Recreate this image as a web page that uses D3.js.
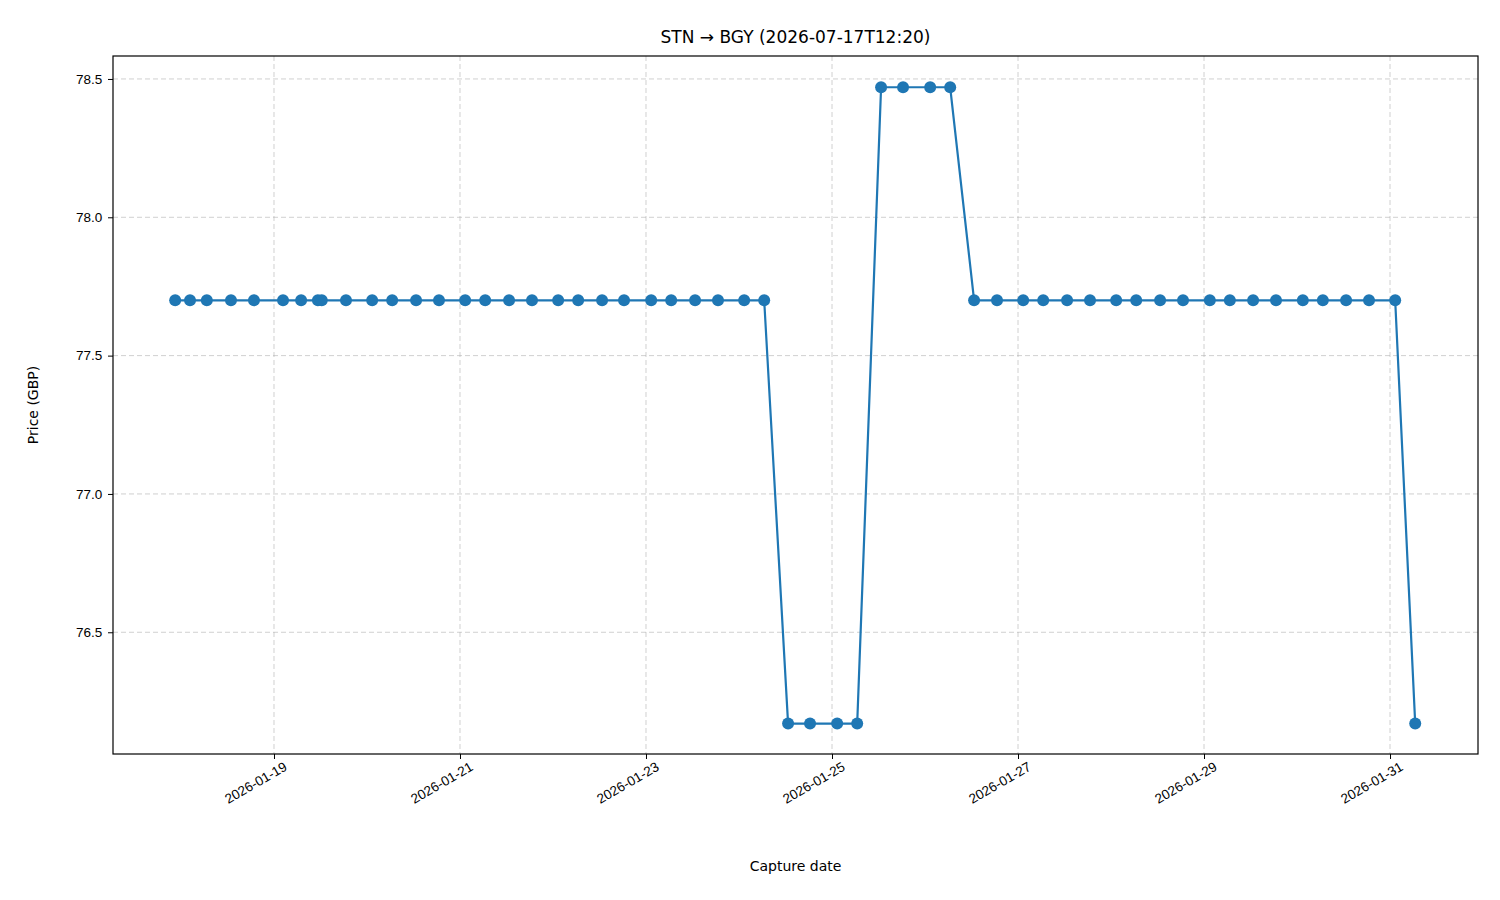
<!DOCTYPE html>
<html lang="en">
<head>
<meta charset="UTF-8">
<title>STN → BGY</title>
<script src="https://d3js.org/d3.v7.min.js"></script>
<style>
  body { margin: 0; background: #fff; font-family: "DejaVu Sans", sans-serif; }
  .grid line { stroke: #b0b0b0; stroke-dasharray: 5,3; stroke-opacity: 0.6; }
  .axis text { font-size: 13.5px; fill: #000; }
</style>
</head>
<body>
<svg id="chart" width="1500" height="900"></svg>
<script>
// capture times and prices
const times = [
  "2026-01-17T22:30","2026-01-18T02:20","2026-01-18T06:40","2026-01-18T12:54","2026-01-18T18:50",
  "2026-01-19T02:20","2026-01-19T07:00","2026-01-19T11:20","2026-01-19T12:20","2026-01-19T18:35",
  "2026-01-20T01:20","2026-01-20T06:30","2026-01-20T12:40","2026-01-20T18:35",
  "2026-01-21T01:20","2026-01-21T06:30","2026-01-21T12:40","2026-01-21T18:35",
  "2026-01-22T01:20","2026-01-22T06:30","2026-01-22T12:40","2026-01-22T18:20",
  "2026-01-23T01:20","2026-01-23T06:30","2026-01-23T12:40","2026-01-23T18:35",
  "2026-01-24T01:20","2026-01-24T06:30","2026-01-24T12:40","2026-01-24T18:20",
  "2026-01-25T01:20","2026-01-25T06:30","2026-01-25T12:40","2026-01-25T18:20",
  "2026-01-26T01:20","2026-01-26T06:30","2026-01-26T12:40","2026-01-26T18:35",
  "2026-01-27T01:20","2026-01-27T06:30","2026-01-27T12:40","2026-01-27T18:35",
  "2026-01-28T01:20","2026-01-28T06:30","2026-01-28T12:40","2026-01-28T18:35",
  "2026-01-29T01:30","2026-01-29T06:40","2026-01-29T12:40","2026-01-29T18:35",
  "2026-01-30T01:30","2026-01-30T06:40","2026-01-30T12:40","2026-01-30T18:35",
  "2026-01-31T01:20","2026-01-31T06:30"
];
const prices = [
  77.7,77.7,77.7,77.7,77.7,
  77.7,77.7,77.7,77.7,77.7,
  77.7,77.7,77.7,77.7,
  77.7,77.7,77.7,77.7,
  77.7,77.7,77.7,77.7,
  77.7,77.7,77.7,77.7,
  77.7,77.7,76.17,76.17,
  76.17,76.17,78.47,78.47,
  78.47,78.47,77.7,77.7,
  77.7,77.7,77.7,77.7,
  77.7,77.7,77.7,77.7,
  77.7,77.7,77.7,77.7,
  77.7,77.7,77.7,77.7,
  77.7,76.17
];
const tickDates = ["2026-01-19","2026-01-21","2026-01-23","2026-01-25","2026-01-27","2026-01-29","2026-01-31"];
const yTicks = [76.5, 77.0, 77.5, 78.0, 78.5];

const parse = d3.timeParse("%Y-%m-%dT%H:%M");
const parseDay = d3.timeParse("%Y-%m-%d");
const data = times.map((t, i) => ({ t: parse(t), p: prices[i] }));

const mLeft = 113, mRight = 1478, mTop = 56, mBottom = 754;
const day = 86400000;
const base = parseDay("2026-01-19").getTime();
const x = d3.scaleTime()
  .domain([new Date(base - 1.731 * day), new Date(base + 12.946 * day)])
  .range([mLeft, mRight]);
const y = d3.scaleLinear().domain([76.06, 78.583]).range([mBottom, mTop]);

const svg = d3.select("#chart");

// grid
const grid = svg.append("g").attr("class", "grid");
grid.selectAll(".vx").data(tickDates).join("line")
  .attr("x1", d => x(parseDay(d))).attr("x2", d => x(parseDay(d)))
  .attr("y1", mTop).attr("y2", mBottom);
grid.selectAll(".hy").data(yTicks).join("line")
  .attr("x1", mLeft).attr("x2", mRight)
  .attr("y1", d => y(d)).attr("y2", d => y(d));

// axes
const xAxis = svg.append("g").attr("class", "axis")
  .attr("transform", `translate(0,${mBottom})`)
  .call(d3.axisBottom(x).tickValues(tickDates.map(parseDay))
    .tickFormat(d3.timeFormat("%Y-%m-%d")).tickSizeOuter(0).tickSize(5));
xAxis.select(".domain").remove();
xAxis.selectAll("text")
  .attr("text-anchor", "end")
  .attr("dx", "0.3em").attr("dy", "0.9em")
  .attr("transform", "rotate(-30)");

const yAxis = svg.append("g").attr("class", "axis")
  .attr("transform", `translate(${mLeft},0)`)
  .call(d3.axisLeft(y).tickValues(yTicks).tickFormat(d3.format(".1f")).tickSize(5).tickSizeOuter(0));
yAxis.select(".domain").remove();
yAxis.selectAll("text").attr("dx", "-0.2em");

// frame
svg.append("rect").attr("x", mLeft).attr("y", mTop)
  .attr("width", mRight - mLeft).attr("height", mBottom - mTop)
  .attr("fill", "none").attr("stroke", "#000").attr("stroke-width", 1.2);

// line + markers
svg.append("path").datum(data)
  .attr("fill", "none").attr("stroke", "#1f77b4").attr("stroke-width", 2.2)
  .attr("d", d3.line().x(d => x(d.t)).y(d => y(d.p)));
svg.append("g").selectAll("circle").data(data).join("circle")
  .attr("cx", d => x(d.t)).attr("cy", d => y(d.p)).attr("r", 6)
  .attr("fill", "#1f77b4");

// labels
svg.append("text").attr("x", (mLeft + mRight) / 2).attr("y", 43)
  .attr("text-anchor", "middle").attr("font-size", 17)
  .text("STN → BGY (2026-07-17T12:20)");
svg.append("text").attr("x", (mLeft + mRight) / 2).attr("y", 871)
  .attr("text-anchor", "middle").attr("font-size", 14)
  .text("Capture date");
svg.append("text").attr("transform", `translate(38,${(mTop + mBottom) / 2}) rotate(-90)`)
  .attr("text-anchor", "middle").attr("font-size", 14)
  .text("Price (GBP)");
</script>
</body>
</html>
